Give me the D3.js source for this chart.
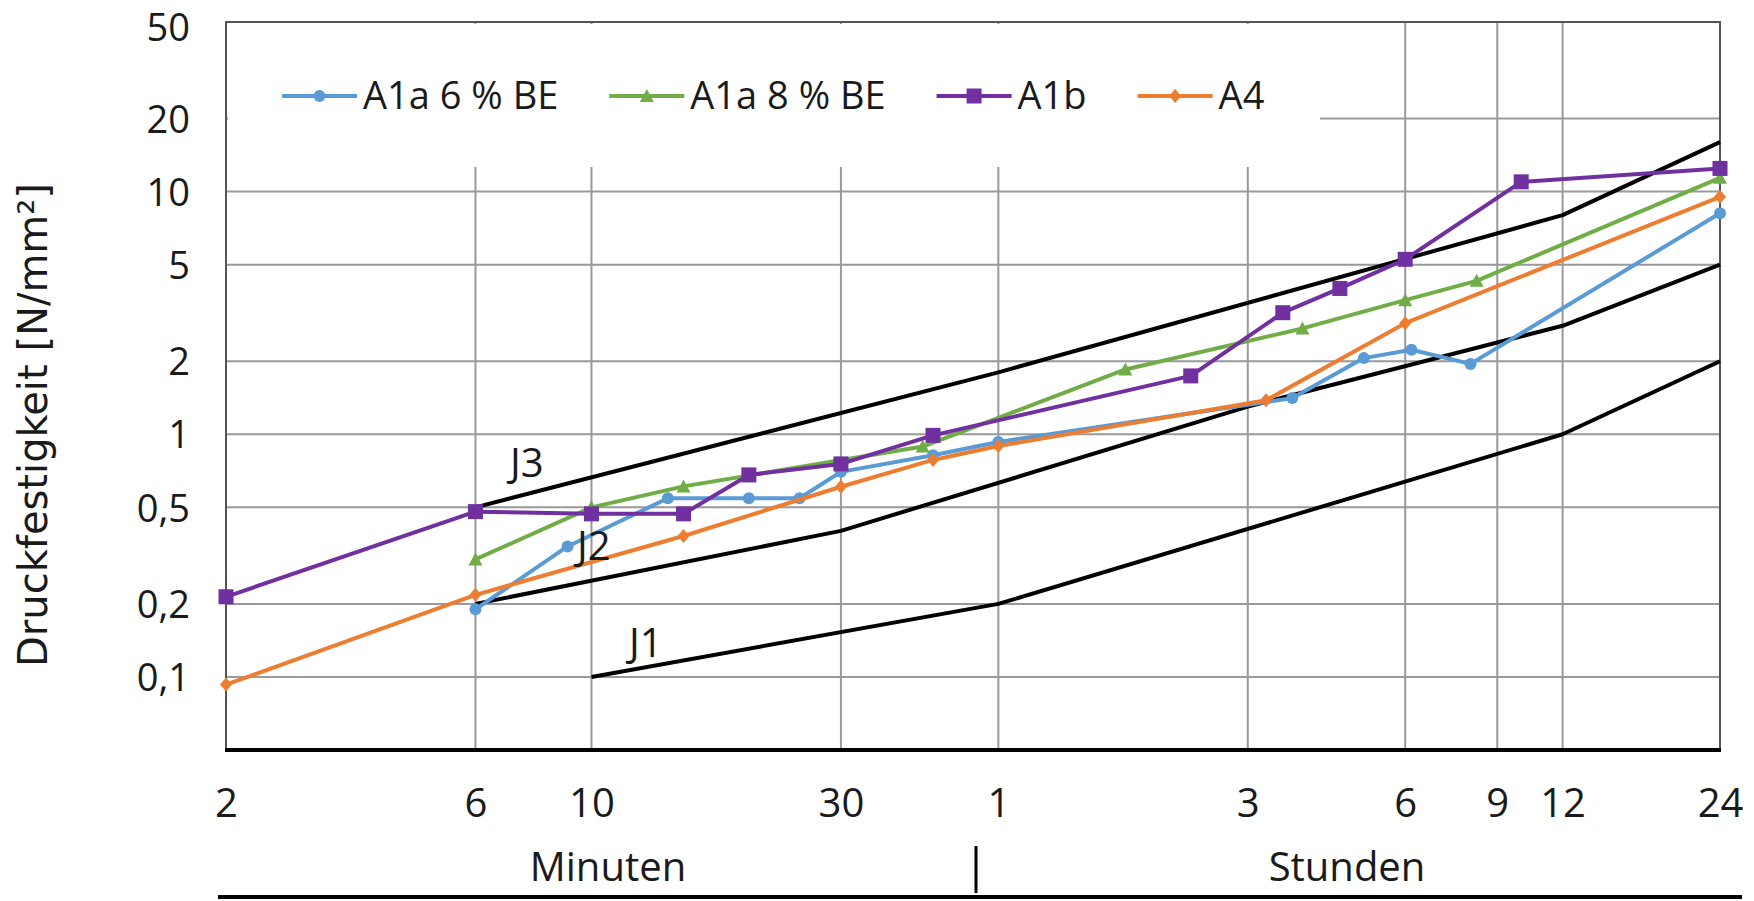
<!DOCTYPE html>
<html>
<head>
<meta charset="utf-8">
<script src="https://cdn.jsdelivr.net/npm/d3@7"></script>
<style>
  body { margin: 0; background: #fff; }
  text { font-family: "Open Sans", sans-serif; fill: #1a1a1a; }
</style>
</head>
<body>
<div id="chart"></div>
<script>

// time in minutes, strength in N/mm²
const xTickValues = [2, 6, 10, 30, 60, 180, 360, 540, 720, 1440];
const xTickLabels = ["2", "6", "10", "30", "1", "3", "6", "9", "12", "24"];
const yTickValues = [0.1, 0.2, 0.5, 1, 2, 5, 10, 20, 50];
const yTickLabels = ["0,1", "0,2", "0,5", "1", "2", "5", "10", "20", "50"];

const blueT = [6, 9, 14, 20, 25, 30, 45, 60, 219, 300, 370, 480, 1440];
const blueV = [0.19, 0.345, 0.545, 0.545, 0.545, 0.70, 0.82, 0.93, 1.41, 2.06, 2.23, 1.95, 8.15];

const greenT = [6, 10, 15, 43, 105, 229, 360, 493, 1440];
const greenV = [0.305, 0.50, 0.61, 0.89, 1.85, 2.73, 3.57, 4.29, 11.4];

const purpleT = [2, 6, 10, 15, 20, 30, 45, 140, 210, 270, 360, 600, 1440];
const purpleV = [0.214, 0.48, 0.47, 0.47, 0.68, 0.755, 0.99, 1.74, 3.17, 3.99, 5.26, 10.97, 12.46];

const orangeT = [2, 6, 15, 30, 45, 60, 195, 360, 1440];
const orangeV = [0.093, 0.218, 0.381, 0.608, 0.784, 0.895, 1.38, 2.87, 9.52];

const j1T = [10, 60, 720, 1440];
const j1V = [0.1, 0.2, 1.0, 2.0];
const j2T = [6, 30, 180, 720, 1440];
const j2V = [0.2, 0.4, 1.3, 2.8, 5.0];
const j3T = [6, 60, 720, 1440];
const j3V = [0.5, 1.8, 8, 16];

const WIDTH = 1754;
const HEIGHT = 901;
const PLOT = { LEFT: 226, RIGHT: 1720, TOP: 22, BOTTOM: 750 };

const SVG = d3.select("#chart").append("svg")
  .attr("width", WIDTH)
  .attr("height", HEIGHT)
  .style("background", "#fff");

const escalaX = d3.scaleLog().domain([2, 1440]).range([PLOT.LEFT, PLOT.RIGHT]);
const escalaY = d3.scaleLog().domain([0.05, 50]).range([PLOT.BOTTOM, PLOT.TOP]);

const toPoints = (ts, vs) => ts.map((t, i) => ({ t: t, v: vs[i] }));

const referencias = [toPoints(j1T, j1V), toPoints(j2T, j2V), toPoints(j3T, j3V)];

const series = [
  { name: "A1a 6 % BE", color: "#5B9BD5", marker: "circle", data: toPoints(blueT, blueV) },
  { name: "A1a 8 % BE", color: "#70AD47", marker: "triangle", data: toPoints(greenT, greenV) },
  { name: "A1b", color: "#7030A0", marker: "square", data: toPoints(purpleT, purpleV) },
  { name: "A4", color: "#ED7D31", marker: "diamond", data: toPoints(orangeT, orangeV) }
];

// gridlines
const grid = SVG.append("g").attr("id", "grid");
grid.selectAll(".hgrid")
  .data(yTickValues)
  .join("line")
  .attr("class", "hgrid")
  .attr("x1", PLOT.LEFT).attr("x2", PLOT.RIGHT)
  .attr("y1", d => escalaY(d)).attr("y2", d => escalaY(d))
  .attr("stroke", "#999").attr("stroke-width", 2);
grid.selectAll(".vgrid")
  .data(xTickValues)
  .join("line")
  .attr("class", "vgrid")
  .attr("x1", d => escalaX(d)).attr("x2", d => escalaX(d))
  .attr("y1", PLOT.TOP).attr("y2", PLOT.BOTTOM)
  .attr("stroke", "#999").attr("stroke-width", 2);

// legend background hides the grid behind it
SVG.append("rect")
  .attr("x", PLOT.LEFT + 2).attr("y", PLOT.TOP + 2)
  .attr("width", 1320 - PLOT.LEFT - 2).attr("height", 167 - PLOT.TOP - 2)
  .attr("fill", "#fff");

// frame
SVG.append("rect")
  .attr("x", PLOT.LEFT).attr("y", PLOT.TOP)
  .attr("width", PLOT.RIGHT - PLOT.LEFT).attr("height", PLOT.BOTTOM - PLOT.TOP)
  .attr("fill", "none").attr("stroke", "#555").attr("stroke-width", 2);
SVG.append("line")
  .attr("x1", PLOT.LEFT - 1).attr("x2", PLOT.RIGHT + 1)
  .attr("y1", PLOT.BOTTOM).attr("y2", PLOT.BOTTOM)
  .attr("stroke", "#000").attr("stroke-width", 4);

const linea = d3.line().x(d => escalaX(d.t)).y(d => escalaY(d.v));

// J1, J2, J3
SVG.append("g").selectAll("path")
  .data(referencias)
  .join("path")
  .attr("d", linea)
  .attr("fill", "none")
  .attr("stroke", "#000")
  .attr("stroke-width", 4)
  .attr("stroke-linejoin", "round");

function marcador(g, tipo, color) {
  if (tipo === "circle") {
    g.append("circle").attr("r", 6).attr("fill", color);
  } else if (tipo === "square") {
    g.append("rect").attr("x", -7.5).attr("y", -7.5).attr("width", 15).attr("height", 15).attr("fill", color);
  } else if (tipo === "triangle") {
    g.append("path").attr("d", "M0,-7L7,6L-7,6Z").attr("fill", color);
  } else {
    g.append("path").attr("d", "M0,-7L6,0L0,7L-6,0Z").attr("fill", color);
  }
}

series.forEach(s => {
  const g = SVG.append("g");
  g.append("path")
    .datum(s.data)
    .attr("d", linea)
    .attr("fill", "none")
    .attr("stroke", s.color)
    .attr("stroke-width", 4)
    .attr("stroke-linejoin", "round");
  g.selectAll(".pt")
    .data(s.data)
    .join("g")
    .attr("class", "pt")
    .attr("transform", d => `translate(${escalaX(d.t)},${escalaY(d.v)})`)
    .each(function () { marcador(d3.select(this), s.marker, s.color); });
});

// legend
const leyenda = SVG.append("g").attr("id", "leyenda");
let cursor = 282;
const LEG_Y = 96;
series.forEach(s => {
  leyenda.append("line")
    .attr("x1", cursor).attr("x2", cursor + 75)
    .attr("y1", LEG_Y).attr("y2", LEG_Y)
    .attr("stroke", s.color).attr("stroke-width", 4);
  const m = leyenda.append("g").attr("transform", `translate(${cursor + 37.5},${LEG_Y})`);
  marcador(m, s.marker, s.color);
  const t = leyenda.append("text")
    .attr("x", cursor + 81).attr("y", LEG_Y + 13)
    .style("font-size", "38px")
    .text(s.name);
  cursor = cursor + 81 + t.node().getComputedTextLength() + 51;
});

// y axis labels
const ejeY = d3.axisLeft(escalaY)
  .tickValues(yTickValues)
  .tickFormat((d, i) => yTickLabels[i])
  .tickSize(0)
  .tickPadding(36);
const contenedorEjeY = SVG.append("g")
  .attr("transform", `translate(${PLOT.LEFT}, 0)`)
  .call(ejeY);
contenedorEjeY.select(".domain").remove();
contenedorEjeY.selectAll("text")
  .style("font-size", "38px")
  .style("font-family", "'Open Sans', sans-serif")
  .attr("fill", "#1a1a1a")
  .attr("dy", "0.36em")
  .attr("y", d => Math.max(escalaY(d), 27) - escalaY(d));

// x axis labels
const ejeX = d3.axisBottom(escalaX)
  .tickValues(xTickValues)
  .tickFormat((d, i) => xTickLabels[i])
  .tickSize(0)
  .tickPadding(39);
const contenedorEjeX = SVG.append("g")
  .attr("transform", `translate(0, ${PLOT.BOTTOM})`)
  .call(ejeX);
contenedorEjeX.select(".domain").remove();
contenedorEjeX.selectAll("text")
  .style("font-size", "40px")
  .style("font-family", "'Open Sans', sans-serif")
  .attr("fill", "#1a1a1a");

// y title
SVG.append("text")
  .attr("transform", "translate(47, 425) rotate(-90)")
  .attr("text-anchor", "middle")
  .style("font-family", "'DejaVu Sans', sans-serif")
  .style("font-size", "40px")
  .text("Druckfestigkeit [N/mm²]");

// time units under the axis
SVG.append("text").attr("x", 608).attr("y", 881).attr("text-anchor", "middle")
  .style("font-size", "40px").text("Minuten");
SVG.append("text").attr("x", 1347).attr("y", 881).attr("text-anchor", "middle")
  .style("font-size", "40px").text("Stunden");
SVG.append("line")
  .attr("x1", 976).attr("x2", 976).attr("y1", 846).attr("y2", 893)
  .attr("stroke", "#000").attr("stroke-width", 3);
SVG.append("line")
  .attr("x1", 218).attr("x2", 1742).attr("y1", 897).attr("y2", 897)
  .attr("stroke", "#000").attr("stroke-width", 4);

// curve names
const etiquetas = [["J3", 510, 477], ["J2", 577, 560], ["J1", 629, 657]];
SVG.selectAll(".jlabel")
  .data(etiquetas)
  .join("text")
  .attr("class", "jlabel")
  .attr("x", d => d[1]).attr("y", d => d[2])
  .style("font-size", "40px")
  .text(d => d[0]);

</script>
</body>
</html>
